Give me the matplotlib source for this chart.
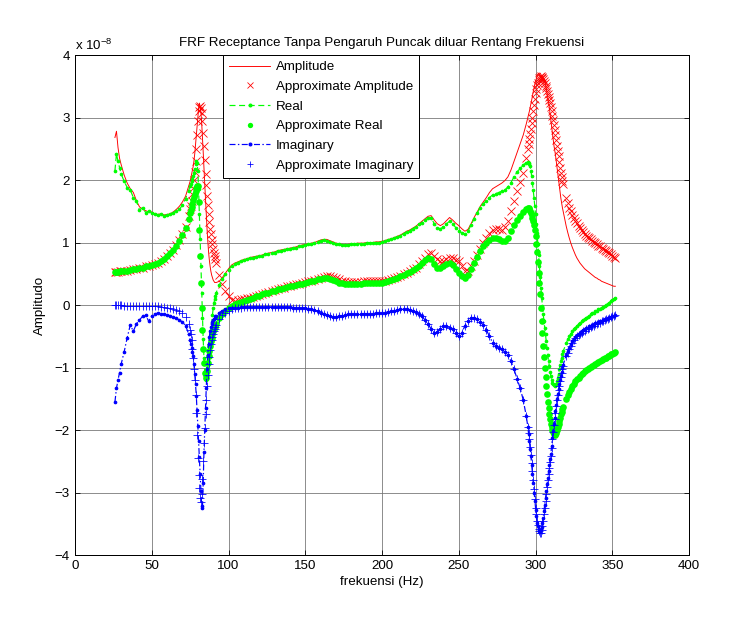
import numpy as np
import matplotlib
matplotlib.use('Agg')
import matplotlib.pyplot as plt

# MATLAB-like look: Helvetica -> Liberation Sans
plt.rcParams['font.family'] = ['Liberation Sans', 'DejaVu Sans']
plt.rcParams['font.size'] = 10
plt.rcParams['mathtext.fontset'] = 'custom'
plt.rcParams['mathtext.rm'] = 'Liberation Sans'
plt.rcParams['mathtext.it'] = 'Liberation Sans:italic'
plt.rcParams['mathtext.bf'] = 'Liberation Sans:bold'

# frekuensi (Hz): 0.5 Hz around the two resonances, 1-2 Hz elsewhere
frek = np.concatenate([np.arange(26, 31), np.arange(32, 75, 2), np.arange(75, 92.5, 0.5),
                       np.arange(94, 295, 2), np.arange(295, 318.5, 0.5), np.arange(320, 353)])

# all values in units of 1e-8 (m/N)
# measured amplitude
amplitudo = [
    2.68, 2.78, 2.52, 2.35, 2.25,
    2.08, 1.95, 1.86, 1.80, 1.67, 1.57, 1.53, 1.51, 1.49, 1.49, 1.46,
    1.45, 1.46, 1.44, 1.45, 1.46, 1.49, 1.53, 1.58, 1.65, 1.74, 1.90,
    1.98, 2.04, 2.10, 2.16, 2.22, 2.31, 2.42, 2.56, 2.72, 2.86,
    3.00, 3.14, 3.23, 3.18, 3.08, 2.92, 2.70, 2.45, 2.18, 1.94,
    1.70, 1.45, 1.22, 1.02, 0.85, 0.72, 0.62, 0.54, 0.48, 0.44,
    0.40, 0.38, 0.36, 0.36, 0.36,
    0.38, 0.44, 0.51, 0.58, 0.64, 0.67, 0.69, 0.71, 0.73, 0.74,
    0.76, 0.77, 0.78, 0.79, 0.80, 0.82, 0.83, 0.84, 0.85, 0.87,
    0.88, 0.89, 0.90, 0.91, 0.92, 0.93, 0.95, 0.96, 0.97, 0.98,
    0.99, 1.00, 1.02, 1.04, 1.05, 1.05, 1.03, 1.01, 0.99, 0.98,
    0.97, 0.97, 0.97, 0.98, 0.98, 0.99, 0.99, 0.99, 1.00, 1.00,
    1.00, 1.01, 1.01, 1.02, 1.03, 1.05, 1.06, 1.08, 1.10, 1.12,
    1.15, 1.18, 1.20, 1.23, 1.26, 1.30, 1.34, 1.38, 1.42, 1.43,
    1.36, 1.30, 1.27, 1.30, 1.35, 1.40, 1.36, 1.31, 1.27, 1.22,
    1.18, 1.21, 1.30, 1.40, 1.49, 1.58, 1.65, 1.72, 1.80, 1.86,
    1.89, 1.92, 1.95, 1.99, 2.05, 2.16, 2.30, 2.44, 2.58, 2.72,
    2.90,
    3.00, 3.05, 3.10, 3.16, 3.22, 3.28, 3.35, 3.41, 3.47, 3.53,
    3.58, 3.62, 3.66, 3.68, 3.70, 3.71, 3.71, 3.69, 3.67, 3.65,
    3.63, 3.61, 3.58, 3.52, 3.46, 3.39, 3.32, 3.24, 3.16, 3.06,
    2.95, 2.85, 2.75, 2.65, 2.55, 2.48, 2.40, 2.30, 2.20, 2.10,
    2.00, 1.90, 1.80, 1.71, 1.63, 1.56, 1.50,
    1.26, 1.16, 1.07, 0.99, 0.92, 0.86, 0.80, 0.75, 0.71, 0.67,
    0.64, 0.61, 0.58, 0.56, 0.54, 0.52, 0.50, 0.48, 0.46, 0.44,
    0.43, 0.41, 0.40, 0.38, 0.37, 0.36, 0.35, 0.34, 0.33, 0.32,
    0.31, 0.30, 0.30,
]

# approximate amplitude
amp_aprx = [
    0.53, 0.53, 0.53, 0.54, 0.54,
    0.54, 0.55, 0.56, 0.57, 0.58, 0.59, 0.60, 0.62, 0.63, 0.64, 0.66,
    0.68, 0.71, 0.74, 0.78, 0.83, 0.88, 0.96, 1.04, 1.13, 1.25, 1.42,
    1.53, 1.59, 1.67, 1.77, 1.88, 2.00, 2.13, 2.30, 2.50, 2.72,
    2.95, 3.10, 3.17, 3.18, 3.15, 3.07, 2.95, 2.76, 2.55, 2.32,
    2.10, 1.92, 1.75, 1.60, 1.45, 1.33, 1.22, 1.13, 1.04, 0.97,
    0.90, 0.84, 0.78, 0.73, 0.68,
    0.48, 0.33, 0.22, 0.14, 0.08, 0.07, 0.08, 0.09, 0.10, 0.11,
    0.12, 0.13, 0.15, 0.16, 0.18, 0.20, 0.21, 0.23, 0.24, 0.26,
    0.27, 0.28, 0.30, 0.31, 0.32, 0.33, 0.34, 0.35, 0.37, 0.38,
    0.39, 0.40, 0.42, 0.44, 0.45, 0.46, 0.46, 0.45, 0.43, 0.41,
    0.39, 0.38, 0.37, 0.37, 0.37, 0.37, 0.37, 0.38, 0.38, 0.38,
    0.38, 0.38, 0.38, 0.38, 0.39, 0.40, 0.41, 0.43, 0.45, 0.47,
    0.49, 0.52, 0.54, 0.57, 0.60, 0.65, 0.70, 0.76, 0.82, 0.84,
    0.79, 0.74, 0.70, 0.71, 0.74, 0.76, 0.75, 0.72, 0.70, 0.63,
    0.55, 0.54, 0.62, 0.71, 0.80, 0.90, 0.99, 1.07, 1.15, 1.20,
    1.22, 1.21, 1.20, 1.25, 1.35, 1.50, 1.66, 1.83, 1.97, 2.12,
    2.35,
    2.50, 2.57, 2.65, 2.73, 2.82, 2.91, 3.00, 3.10, 3.20, 3.30,
    3.40, 3.46, 3.52, 3.56, 3.60, 3.63, 3.65, 3.66, 3.65, 3.64,
    3.62, 3.59, 3.55, 3.51, 3.47, 3.43, 3.38, 3.33, 3.28, 3.23,
    3.17, 3.10, 3.03, 2.96, 2.88, 2.80, 2.72, 2.64, 2.55, 2.47,
    2.38, 2.29, 2.20, 2.12, 2.05, 1.99, 1.93,
    1.72, 1.64, 1.56, 1.50, 1.44, 1.39, 1.35, 1.31, 1.27, 1.23,
    1.20, 1.17, 1.14, 1.11, 1.09, 1.07, 1.05, 1.03, 1.01, 0.99,
    0.97, 0.95, 0.94, 0.92, 0.90, 0.88, 0.87, 0.85, 0.83, 0.81,
    0.79, 0.77, 0.76,
]

# measured real part
real = [
    2.15, 2.42, 2.30, 2.20, 2.10,
    1.98, 1.88, 1.84, 1.72, 1.66, 1.52, 1.56, 1.48, 1.50, 1.48, 1.45,
    1.44, 1.45, 1.43, 1.44, 1.45, 1.48, 1.51, 1.53, 1.60, 1.70, 1.83,
    1.90, 1.94, 1.98, 2.02, 2.06, 2.12, 2.18, 2.25, 2.30, 2.28,
    2.15, 1.85, 1.45, 1.05, 0.62, 0.20, -0.20, -0.55, -0.85, -1.08,
    -1.20, -1.12, -1.00, -0.88, -0.75, -0.63, -0.52, -0.40, -0.28, -0.16,
    -0.05, 0.03, 0.10, 0.15, 0.20,
    0.32, 0.41, 0.49, 0.56, 0.62, 0.66, 0.68, 0.70, 0.72, 0.73,
    0.75, 0.76, 0.77, 0.78, 0.79, 0.81, 0.82, 0.83, 0.84, 0.86,
    0.87, 0.88, 0.89, 0.90, 0.91, 0.92, 0.94, 0.95, 0.96, 0.97,
    0.98, 0.99, 1.01, 1.03, 1.04, 1.03, 1.01, 0.99, 0.98, 0.97,
    0.96, 0.96, 0.96, 0.97, 0.97, 0.98, 0.98, 0.98, 0.99, 0.99,
    0.99, 1.00, 1.00, 1.01, 1.02, 1.04, 1.05, 1.07, 1.09, 1.11,
    1.14, 1.17, 1.19, 1.22, 1.25, 1.29, 1.32, 1.36, 1.39, 1.40,
    1.30, 1.24, 1.22, 1.25, 1.30, 1.34, 1.30, 1.24, 1.19, 1.15,
    1.13, 1.18, 1.28, 1.38, 1.47, 1.56, 1.62, 1.67, 1.72, 1.76,
    1.78, 1.80, 1.82, 1.84, 1.89, 1.96, 2.05, 2.13, 2.19, 2.24,
    2.28,
    2.29, 2.28, 2.26, 2.22, 2.15, 2.06, 1.95, 1.84, 1.72, 1.59,
    1.45, 1.30, 1.15, 0.98, 0.80, 0.62, 0.45, 0.28, 0.12, -0.02,
    -0.15, -0.26, -0.36, -0.47, -0.58, -0.69, -0.80, -0.90, -0.98, -1.07,
    -1.14, -1.20, -1.24, -1.27, -1.28, -1.29, -1.28, -1.26, -1.22, -1.16,
    -1.10, -1.03, -0.96, -0.90, -0.84, -0.79, -0.74,
    -0.61, -0.55, -0.50, -0.46, -0.42, -0.39, -0.36, -0.33, -0.31, -0.28,
    -0.26, -0.24, -0.22, -0.20, -0.19, -0.17, -0.15, -0.13, -0.12, -0.10,
    -0.09, -0.07, -0.06, -0.04, -0.03, -0.01, 0.00, 0.02, 0.04, 0.06,
    0.08, 0.10, 0.11,
]

# approximate real part
real_aprx = [
    0.53, 0.53, 0.53, 0.54, 0.54,
    0.54, 0.55, 0.56, 0.57, 0.58, 0.59, 0.60, 0.62, 0.63, 0.64, 0.66,
    0.68, 0.71, 0.74, 0.78, 0.83, 0.88, 0.95, 1.03, 1.12, 1.23, 1.38,
    1.47, 1.52, 1.57, 1.62, 1.68, 1.73, 1.78, 1.83, 1.87, 1.90,
    1.90, 1.65, 1.20, 0.78, 0.35, -0.05, -0.40, -0.70, -0.92, -1.08,
    -1.17, -1.12, -1.05, -0.93, -0.82, -0.73, -0.65, -0.58, -0.52, -0.47,
    -0.42, -0.38, -0.35, -0.32, -0.30,
    -0.21, -0.15, -0.10, -0.05, -0.02, 0.01, 0.03, 0.05, 0.07, 0.08,
    0.10, 0.12, 0.14, 0.15, 0.17, 0.19, 0.20, 0.22, 0.23, 0.25,
    0.26, 0.27, 0.29, 0.30, 0.31, 0.32, 0.33, 0.34, 0.36, 0.37,
    0.38, 0.39, 0.41, 0.42, 0.43, 0.43, 0.42, 0.40, 0.38, 0.36,
    0.35, 0.34, 0.34, 0.34, 0.34, 0.34, 0.34, 0.35, 0.35, 0.35,
    0.35, 0.35, 0.36, 0.36, 0.37, 0.38, 0.40, 0.42, 0.44, 0.46,
    0.48, 0.51, 0.53, 0.56, 0.59, 0.63, 0.67, 0.72, 0.76, 0.74,
    0.66, 0.60, 0.59, 0.63, 0.66, 0.67, 0.64, 0.58, 0.51, 0.46,
    0.43, 0.48, 0.58, 0.68, 0.77, 0.86, 0.94, 0.99, 1.04, 1.07,
    1.08, 1.05, 1.02, 1.02, 1.08, 1.18, 1.28, 1.36, 1.42, 1.49,
    1.54,
    1.55, 1.55, 1.53, 1.51, 1.48, 1.44, 1.40, 1.35, 1.28, 1.20,
    1.10, 0.98, 0.85, 0.69, 0.52, 0.35, 0.18, -0.04, -0.25, -0.45,
    -0.65, -0.83, -1.00, -1.15, -1.30, -1.43, -1.55, -1.65, -1.75, -1.83,
    -1.90, -1.95, -2.00, -2.03, -2.06, -2.07, -2.08, -2.04, -2.00, -1.95,
    -1.90, -1.85, -1.80, -1.75, -1.71, -1.67, -1.63,
    -1.50, -1.44, -1.39, -1.34, -1.30, -1.26, -1.22, -1.19, -1.16, -1.13,
    -1.10, -1.08, -1.06, -1.04, -1.02, -1.00, -0.99, -0.97, -0.96, -0.94,
    -0.93, -0.91, -0.90, -0.88, -0.87, -0.85, -0.84, -0.82, -0.81, -0.79,
    -0.78, -0.76, -0.75,
]

# measured imaginary part
imajiner = [
    -1.55, -1.33, -1.20, -1.08, -0.95,
    -0.75, -0.52, -0.32, -0.42, -0.30, -0.24, -0.18, -0.16, -0.26, -0.17, -0.14,
    -0.13, -0.14, -0.15, -0.16, -0.17, -0.19, -0.21, -0.24, -0.27, -0.33, -0.46,
    -0.56, -0.62, -0.68, -0.75, -0.82, -0.95, -1.10, -1.27, -1.45, -1.68,
    -1.93, -2.18, -2.43, -2.70, -2.98, -3.22, -3.25, -2.85, -2.35, -2.00,
    -1.65, -1.32, -1.02, -0.80, -0.62, -0.51, -0.42, -0.35, -0.30, -0.27,
    -0.24, -0.22, -0.20, -0.18, -0.17,
    -0.12, -0.09, -0.07, -0.05, -0.05, -0.04, -0.04, -0.03, -0.03, -0.03,
    -0.03, -0.03, -0.03, -0.03, -0.03, -0.03, -0.03, -0.03, -0.03, -0.03,
    -0.03, -0.03, -0.03, -0.03, -0.04, -0.04, -0.04, -0.05, -0.05, -0.06,
    -0.07, -0.08, -0.10, -0.12, -0.14, -0.16, -0.18, -0.19, -0.19, -0.18,
    -0.17, -0.16, -0.15, -0.15, -0.15, -0.15, -0.14, -0.14, -0.14, -0.14,
    -0.14, -0.13, -0.13, -0.13, -0.12, -0.11, -0.10, -0.09, -0.08, -0.07,
    -0.07, -0.07, -0.08, -0.09, -0.11, -0.14, -0.18, -0.24, -0.31, -0.38,
    -0.44, -0.43, -0.38, -0.34, -0.34, -0.36, -0.39, -0.44, -0.50, -0.45,
    -0.33, -0.25, -0.21, -0.20, -0.23, -0.27, -0.32, -0.40, -0.50, -0.60,
    -0.65, -0.68, -0.71, -0.75, -0.80, -0.90, -1.03, -1.18, -1.33, -1.52,
    -1.78,
    -1.95, -2.06, -2.18, -2.30, -2.42, -2.56, -2.70, -2.85, -3.00, -3.14,
    -3.28, -3.38, -3.48, -3.54, -3.60, -3.62, -3.62, -3.59, -3.55, -3.48,
    -3.40, -3.30, -3.20, -3.09, -2.98, -2.87, -2.76, -2.66, -2.56, -2.47,
    -2.38, -2.25, -2.12, -2.01, -1.90, -1.80, -1.70, -1.60, -1.50, -1.42,
    -1.34, -1.27, -1.20, -1.13, -1.07, -1.01, -0.96,
    -0.80, -0.74, -0.68, -0.63, -0.58, -0.54, -0.51, -0.48, -0.46, -0.44,
    -0.42, -0.40, -0.39, -0.37, -0.36, -0.34, -0.33, -0.32, -0.31, -0.29,
    -0.28, -0.27, -0.26, -0.25, -0.24, -0.23, -0.22, -0.21, -0.20, -0.19,
    -0.18, -0.17, -0.16,
]

# approximate imaginary part
imajiner_aprx = [
    0.00, 0.00, 0.00, 0.00, 0.00,
    -0.01, -0.01, -0.01, -0.01, -0.01, -0.01, -0.01, -0.01, -0.02, -0.02, -0.02,
    -0.02, -0.03, -0.03, -0.04, -0.05, -0.06, -0.08, -0.10, -0.13, -0.19, -0.30,
    -0.40, -0.47, -0.56, -0.70, -0.85, -1.02, -1.20, -1.44, -1.72, -2.08,
    -2.45, -2.72, -2.92, -3.08, -3.15, -3.02, -2.78, -2.50, -2.20, -1.97,
    -1.75, -1.52, -1.30, -1.12, -0.95, -0.83, -0.72, -0.63, -0.56, -0.51,
    -0.46, -0.42, -0.38, -0.35, -0.32,
    -0.23, -0.16, -0.12, -0.09, -0.07, -0.05, -0.04, -0.04, -0.03, -0.03,
    -0.03, -0.03, -0.03, -0.03, -0.03, -0.03, -0.03, -0.03, -0.03, -0.03,
    -0.03, -0.03, -0.03, -0.03, -0.04, -0.04, -0.04, -0.05, -0.05, -0.06,
    -0.07, -0.08, -0.10, -0.12, -0.14, -0.16, -0.18, -0.19, -0.19, -0.18,
    -0.17, -0.16, -0.15, -0.15, -0.15, -0.15, -0.14, -0.14, -0.14, -0.14,
    -0.14, -0.13, -0.13, -0.13, -0.12, -0.11, -0.10, -0.09, -0.08, -0.07,
    -0.07, -0.07, -0.08, -0.09, -0.11, -0.14, -0.18, -0.24, -0.31, -0.38,
    -0.44, -0.43, -0.38, -0.34, -0.34, -0.36, -0.39, -0.44, -0.50, -0.45,
    -0.33, -0.25, -0.21, -0.20, -0.23, -0.27, -0.32, -0.40, -0.50, -0.60,
    -0.65, -0.68, -0.71, -0.75, -0.80, -0.90, -1.03, -1.18, -1.33, -1.52,
    -1.78,
    -1.95, -2.05, -2.15, -2.27, -2.40, -2.52, -2.65, -2.80, -2.95, -3.10,
    -3.25, -3.35, -3.45, -3.52, -3.58, -3.62, -3.65, -3.64, -3.60, -3.53,
    -3.45, -3.35, -3.25, -3.14, -3.02, -2.91, -2.80, -2.70, -2.60, -2.51,
    -2.42, -2.28, -2.15, -2.03, -1.92, -1.82, -1.72, -1.62, -1.52, -1.44,
    -1.36, -1.29, -1.22, -1.15, -1.08, -1.02, -0.97,
    -0.82, -0.76, -0.70, -0.65, -0.60, -0.56, -0.53, -0.50, -0.48, -0.46,
    -0.44, -0.42, -0.41, -0.39, -0.38, -0.36, -0.35, -0.34, -0.33, -0.31,
    -0.30, -0.29, -0.28, -0.26, -0.25, -0.24, -0.23, -0.22, -0.21, -0.19,
    -0.18, -0.17, -0.16,
]

for nama, seri in [('amplitudo', amplitudo), ('amp_aprx', amp_aprx), ('real', real),
                   ('real_aprx', real_aprx), ('imajiner', imajiner), ('imajiner_aprx', imajiner_aprx)]:
    if len(seri) != len(frek):
        raise ValueError(f'{nama}: {len(seri)} values, expected {len(frek)}')

merah = '#ff0000'
hijau = '#00ff00'
biru = '#0000ff'

fig = plt.figure(figsize=(737 / 96, 618 / 96), dpi=96)
ax = fig.add_axes([0.1018, 0.1019, 0.8331, 0.8091])

ax.plot(frek, amplitudo, '-', color=merah, lw=0.7, label='Amplitude')
ax.plot(frek, amp_aprx, 'x', color=merah, ms=5.5, mew=0.6, label='Approximate Amplitude')
ax.plot(frek, real, '--', color=hijau, lw=0.9, dashes=(5, 3), marker='.', ms=3.5,
        label='Real')
ax.plot(frek, real_aprx, 'o', color=hijau, ms=5, mec='none', label='Approximate Real')
ax.plot(frek, imajiner, '-.', color=biru, lw=0.9, dashes=(5, 2, 1.2, 2), marker='.', ms=3.5,
        label='Imaginary')
ax.plot(frek, imajiner_aprx, '+', color=biru, ms=5.5, mew=0.6, label='Approximate Imaginary')

ax.set_xlim(0, 400)
ax.set_ylim(-4, 4)
ax.set_xticks(np.arange(0, 401, 50))
ax.set_yticks(np.arange(-4, 5, 1))
ax.grid(True, color='0.45', lw=0.6)
ax.set_axisbelow(True)
ax.tick_params(direction='in', length=4, width=0.6, top=True, right=True, labelsize=10, pad=4)
for sp in ax.spines.values():
    sp.set_linewidth(0.75)

ax.set_xlabel('frekuensi (Hz)', labelpad=3)
ax.set_ylabel('Amplitudo', labelpad=6)
ax.set_title('FRF Receptance Tanpa Pengaruh Puncak diluar Rentang Frekuensi', fontsize=10, pad=7)
ax.text(0.0, 1.01, r'x 10$^{-8}$', transform=ax.transAxes, ha='left', va='baseline', fontsize=10)

leg = ax.legend(loc='upper left', bbox_to_anchor=(0.241, 1.0), borderaxespad=0,
                fancybox=False, framealpha=1, edgecolor='black', numpoints=1,
                handlelength=3.1, handletextpad=0.4, borderpad=0.45, labelspacing=0.55,
                fontsize=10)
leg.get_frame().set_linewidth(0.75)
for h in leg.legend_handles:
    h.set_markersize(4)

fig.savefig('out.png', dpi=96)
